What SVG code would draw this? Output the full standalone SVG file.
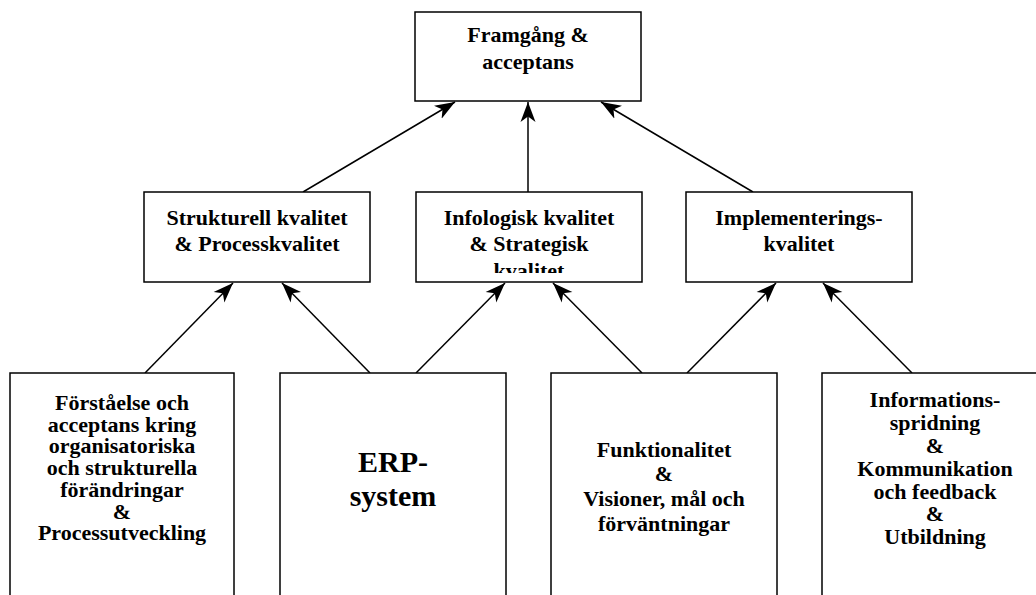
<svg xmlns="http://www.w3.org/2000/svg" width="1036" height="595" viewBox="0 0 1036 595">
  <style>
    .box { fill: #ffffff; stroke: #000000; stroke-width: 1.5; }
    .lbl { font-family: "Liberation Serif", "Times New Roman", serif; font-weight: bold; font-size: 22px; fill: #000000; text-anchor: middle; }
    .big { font-size: 30px; }
    .edge { stroke: #000000; stroke-width: 1.5; fill: none; marker-end: url(#arrow); }
  </style>
  <defs>
    <marker id="arrow" viewBox="0 -8 20 16" refX="20" refY="0" markerWidth="20" markerHeight="16" markerUnits="userSpaceOnUse" orient="auto">
      <path d="M20,0 L0,-7.5 L5.5,0 L0,7.5 Z" fill="#000000"/>
    </marker>
    <clipPath id="clipInfo">
      <rect x="416" y="192" width="226" height="81"/>
    </clipPath>
  </defs>
  <rect width="1036" height="595" fill="#ffffff"/>

  <!-- connectors -->
  <g id="connectors">
    <line class="edge" x1="303" y1="192" x2="455" y2="102"/>
    <line class="edge" x1="528" y1="192" x2="528" y2="102"/>
    <line class="edge" x1="753" y1="192" x2="601" y2="102"/>
    <line class="edge" x1="145" y1="373" x2="233" y2="283"/>
    <line class="edge" x1="370" y1="373" x2="282" y2="283"/>
    <line class="edge" x1="416" y1="373" x2="505" y2="283"/>
    <line class="edge" x1="642" y1="373" x2="553" y2="283"/>
    <line class="edge" x1="687" y1="373" x2="776" y2="283"/>
    <line class="edge" x1="912" y1="373" x2="823" y2="283"/>
  </g>

  <!-- top level -->
  <g id="framgang">
    <rect class="box" x="415" y="12" width="226" height="89"/>
    <text class="lbl" x="528" y="42"><tspan x="528">Framgång &amp;</tspan><tspan x="528" dy="26.5">acceptans</tspan></text>
  </g>

  <!-- middle level -->
  <g id="strukturell">
    <rect class="box" x="144" y="192" width="226" height="90"/>
    <text class="lbl" x="257" y="224.5"><tspan x="257">Strukturell kvalitet</tspan><tspan x="257" dy="26.5">&amp; Processkvalitet</tspan></text>
  </g>
  <g id="infologisk">
    <rect class="box" x="416" y="192" width="226" height="90"/>
    <g clip-path="url(#clipInfo)">
      <text class="lbl" x="529" y="224.5"><tspan x="529">Infologisk kvalitet</tspan><tspan x="529" dy="26.5">&amp; Strategisk</tspan><tspan x="529" dy="26.5">kvalitet</tspan></text>
    </g>
  </g>
  <g id="implementering">
    <rect class="box" x="686" y="192" width="226" height="90"/>
    <text class="lbl" x="799" y="224.5"><tspan x="799">Implementerings-</tspan><tspan x="799" dy="26.5">kvalitet</tspan></text>
  </g>

  <!-- bottom level -->
  <g id="forstaelse">
    <rect class="box" x="10" y="373" width="224" height="250"/>
    <text class="lbl" x="122" y="410"><tspan x="122">Förståelse och</tspan><tspan x="122" dy="21.7">acceptans kring</tspan><tspan x="122" dy="21.7">organisatoriska</tspan><tspan x="122" dy="21.7">och strukturella</tspan><tspan x="122" dy="21.7">förändringar</tspan><tspan x="122" dy="21.7">&amp;</tspan><tspan x="122" dy="21.7">Processutveckling</tspan></text>
  </g>
  <g id="erp">
    <rect class="box" x="280" y="373" width="226" height="250"/>
    <text class="lbl big" x="393" y="471.5"><tspan x="393">ERP-</tspan><tspan x="393" dy="34.5">system</tspan></text>
  </g>
  <g id="funktionalitet">
    <rect class="box" x="551" y="373" width="226" height="250"/>
    <text class="lbl" x="664" y="456.5"><tspan x="664">Funktionalitet</tspan><tspan x="664" dy="24.5">&amp;</tspan><tspan x="664" dy="25">Visioner, mål och</tspan><tspan x="664" dy="24.5">förväntningar</tspan></text>
  </g>
  <g id="information">
    <rect class="box" x="822" y="373" width="226" height="250"/>
    <text class="lbl" x="935" y="407"><tspan x="935">Informations-</tspan><tspan x="935" dy="23">spridning</tspan><tspan x="935" dy="23">&amp;</tspan><tspan x="935" dy="22.5">Kommunikation</tspan><tspan x="935" dy="23">och feedback</tspan><tspan x="935" dy="22">&amp;</tspan><tspan x="935" dy="23">Utbildning</tspan></text>
  </g>
</svg>
